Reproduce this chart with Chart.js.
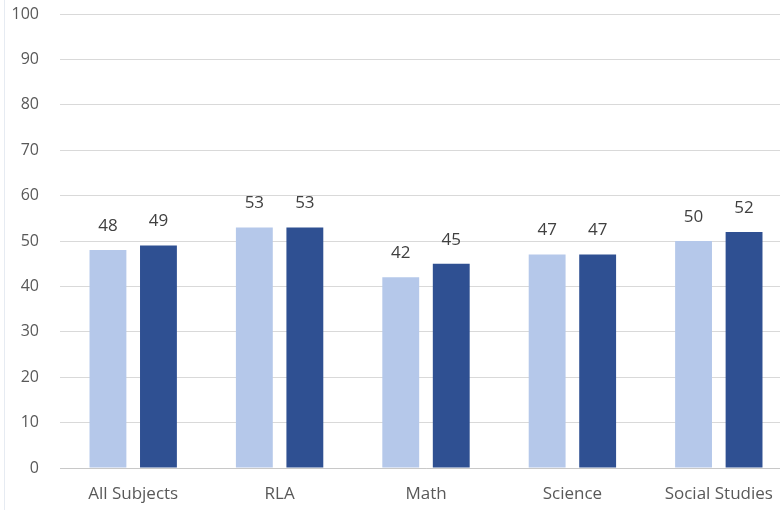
<!DOCTYPE html>
<html>
<head>
<meta charset="utf-8">
<script src="https://cdn.jsdelivr.net/npm/chart.js@4.4.1/dist/chart.umd.min.js"></script>
<style>
  html, body { margin: 0; padding: 0; background: #ffffff; overflow: hidden; }
  #wrap { position: relative; width: 780px; height: 510px; overflow: hidden; }
  #edge { position: absolute; left: 4px; top: 0; width: 1px; height: 510px; background: #e6ebf2; }
  #box { position: absolute; left: 0; top: 0; width: 800px; height: 510px; }
</style>
</head>
<body>
<div id="wrap">
  <div id="box"><canvas id="c" width="800" height="510"></canvas></div>
  <div id="edge"></div>
</div>
<script>
const categories = ["All Subjects", "RLA", "Math", "Science", "Social Studies"];
const seriesA = [48, 53, 42, 47, 50];
const seriesB = [49, 53, 45, 47, 52];
const yTicks = [0, 10, 20, 30, 40, 50, 60, 70, 80, 90, 100];

const FONT = "'Open Sans', 'Noto Sans', sans-serif";

const valueLabels = {
  id: 'valueLabels',
  afterDatasetsDraw(chart) {
    const ctx = chart.ctx;
    ctx.save();
    ctx.font = "17px " + FONT;
    ctx.fillStyle = '#404040';
    ctx.textAlign = 'center';
    ctx.textBaseline = 'middle';
    chart.data.datasets.forEach((ds, i) => {
      const meta = chart.getDatasetMeta(i);
      meta.data.forEach((bar, j) => {
        ctx.fillText(String(ds.data[j]), bar.x, bar.y - 24);
      });
    });
    ctx.restore();
  }
};

new Chart(document.getElementById('c'), {
  type: 'bar',
  data: {
    labels: categories,
    datasets: [
      { label: 'A', data: seriesA, backgroundColor: '#b5c8ea', categoryPercentage: 0.69, barPercentage: 0.73 },
      { label: 'B', data: seriesB, backgroundColor: '#2f5092', categoryPercentage: 0.69, barPercentage: 0.73 }
    ]
  },
  options: {
    responsive: false,
    animation: false,
    layout: { padding: { top: 14, right: 8, left: 0, bottom: 0 } },
    plugins: { legend: { display: false }, tooltip: { enabled: false } },
    scales: {
      x: {
        grid: { display: false, drawTicks: false },
        border: { display: true, color: '#c8c8c8', width: 1 },
        ticks: { color: '#595959', font: { family: FONT, size: 17 }, padding: 16, maxRotation: 0 },
        afterFit(scale) { scale.height = 42; scale.paddingLeft = 0; scale.paddingRight = 0; }
      },
      y: {
        min: 0, max: 100,
        afterBuildTicks(scale) { scale.ticks = yTicks.map(v => ({ value: v })); },
        grid: { color: '#d9d9d9', drawTicks: false },
        border: { display: false },
        ticks: { color: '#595959', font: { family: FONT, size: 16 }, padding: 21 },
        afterFit(scale) { scale.width = 60; scale.paddingTop = 0; scale.paddingBottom = 0; }
      }
    }
  },
  plugins: [valueLabels]
});
</script>
</body>
</html>
